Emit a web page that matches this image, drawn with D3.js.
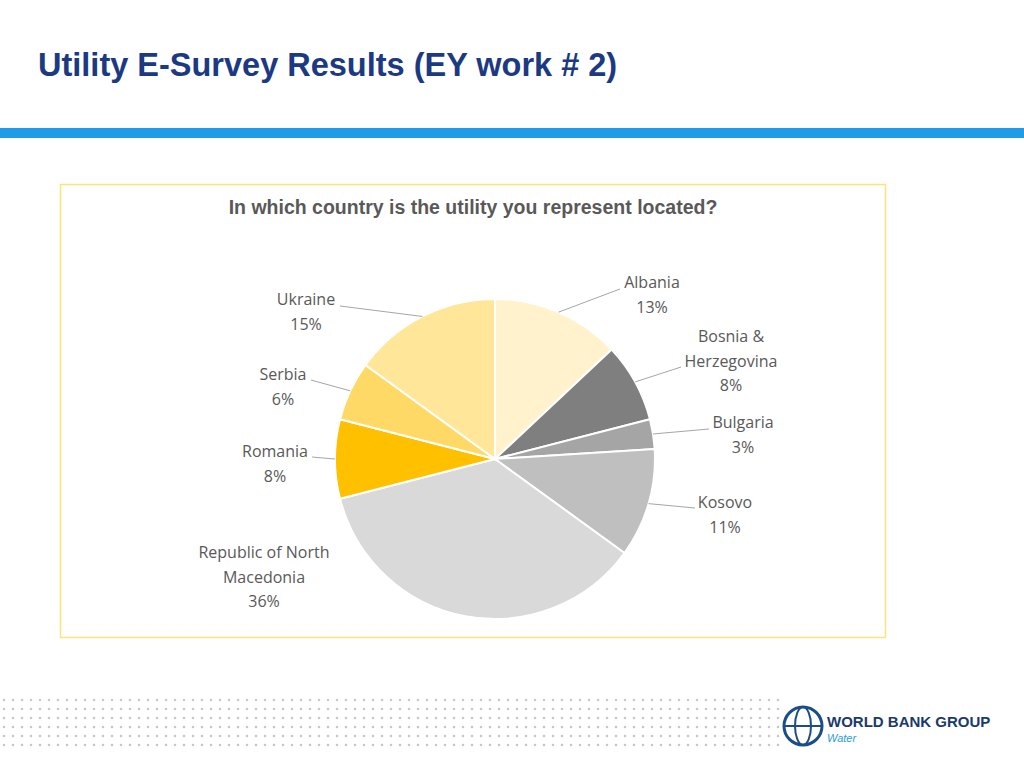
<!DOCTYPE html>
<html><head><meta charset="utf-8">
<script src="https://cdn.jsdelivr.net/npm/d3@7"></script>
<style>body{margin:0;background:#fff}svg{display:block}</style>
</head><body><svg id="c" width="1024" height="768"></svg>
<script>
const countries = ["Albania","Bosnia & Herzegovina","Bulgaria","Kosovo","Republic of North Macedonia","Romania","Serbia","Ukraine"];
const shares = [13,8,3,11,36,8,6,15];
const labelLines = [["Albania","13%"],["Bosnia &","Herzegovina","8%"],["Bulgaria","3%"],["Kosovo","11%"],["Republic of North","Macedonia","36%"],["Romania","8%"],["Serbia","6%"],["Ukraine","15%"]];
const colors = ["#FFF2CC","#7F7F7F","#A5A5A5","#BFBFBF","#D9D9D9","#FFC000","#FFD966","#FFE699"];
const layout = [
 {x:652,y:288,lx:620,ly:289},
 {x:731,y:342,lx:681,ly:367},
 {x:743,y:428,lx:709,ly:429},
 {x:725,y:508,lx:695,ly:508},
 {x:264,y:558,lx:null},
 {x:275,y:457,lx:312,ly:457},
 {x:283,y:380,lx:311,ly:380},
 {x:306,y:305,lx:340,ly:306}
];
const svg = d3.select("#c");
svg.append("text").attr("x",38).attr("y",76).attr("font-family","Liberation Sans, Arial").attr("font-weight","bold").attr("font-size",32.5).attr("fill","#1B3A82").text("Utility E-Survey Results (EY work # 2)");
svg.append("rect").attr("x",0).attr("y",128).attr("width",1024).attr("height",10).attr("fill","#1E9BE9");
svg.append("rect").attr("x",60.5).attr("y",184.5).attr("width",825).attr("height",453).attr("fill","#fff").attr("stroke","#FFE27A").attr("stroke-width",1.5);
svg.append("text").attr("x",473).attr("y",214).attr("text-anchor","middle").attr("font-family","Liberation Sans, Arial").attr("font-weight","bold").attr("font-size",19.5).attr("fill","#595959").text("In which country is the utility you represent located?");
const cx=495, cy=459, R=160;
const pie = d3.pie().sort(null).value(d=>d)(shares);
const arc = d3.arc().innerRadius(0).outerRadius(R);
const g = svg.append("g").attr("transform",`translate(${cx},${cy})`);
g.selectAll("path").data(pie).join("path").attr("d",arc).attr("fill",(d,i)=>colors[i]).attr("stroke","#fff").attr("stroke-width",2);
pie.forEach((d,i)=>{
  const L=layout[i];
  if(L.lx!==null){
    const a=(d.startAngle+d.endAngle)/2;
    svg.append("line").attr("x1",cx+R*Math.sin(a)).attr("y1",cy-R*Math.cos(a)).attr("x2",L.lx).attr("y2",L.ly).attr("stroke","#A6A6A6").attr("stroke-width",1);
  }
  labelLines[i].forEach((t,j)=>{
    svg.append("text").attr("x",L.x).attr("y",L.y+j*24.5).attr("text-anchor","middle").attr("font-family","Open Sans, Carlito, sans-serif").attr("font-size",16).attr("fill","#595959").text(t);
  });
});
const dots=svg.append("g").attr("fill","#C8C8C8");
for(let r=0;r<6;r++)for(let c=0;c<88;c++){
  const x=4+c*9, y=700+r*9;
  if(x>780)continue;
  dots.append("circle").attr("cx",x).attr("cy",y).attr("r",1.3);
}
const lg=svg.append("g");
lg.append("circle").attr("cx",803).attr("cy",726).attr("r",19).attr("fill","none").attr("stroke","#1B4E86").attr("stroke-width",3);
lg.append("ellipse").attr("cx",803).attr("cy",726).attr("rx",8).attr("ry",19).attr("fill","none").attr("stroke","#1B4E86").attr("stroke-width",2);
lg.append("line").attr("x1",784).attr("x2",822).attr("y1",726).attr("y2",726).attr("stroke","#1B4E86").attr("stroke-width",2);
lg.append("text").attr("x",827).attr("y",727).attr("font-family","Liberation Sans, Arial").attr("font-weight","bold").attr("font-size",15).attr("fill","#1B3A6B").text("WORLD BANK GROUP");
lg.append("text").attr("x",827).attr("y",742).attr("font-family","Liberation Sans, Arial").attr("font-size",11).attr("font-style","italic").attr("fill","#2AA0D8").text("Water");
</script></body></html>
